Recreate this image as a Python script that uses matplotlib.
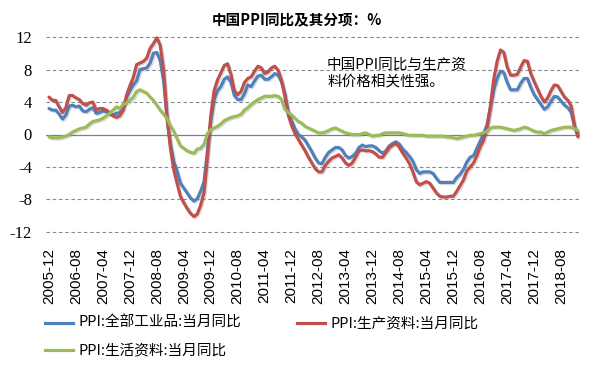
import matplotlib
matplotlib.use('Agg')
import matplotlib.pyplot as plt
from matplotlib.lines import Line2D
import matplotlib.patheffects as pe
import pandas as pd

# ---------------- data ----------------
months = list(pd.period_range('2005-12', '2019-01', freq='M').strftime('%Y-%m'))

tick_labels = ['2005-12', '2006-08', '2007-04', '2007-12', '2008-08', '2009-04',
               '2009-12', '2010-08', '2011-04', '2011-12', '2012-08', '2013-04',
               '2013-12', '2014-08', '2015-04', '2015-12', '2016-08', '2017-04',
               '2017-12', '2018-08']

y_ticks = [-12, -8, -4, 0, 4, 8, 12]

# PPI: all industrial products, yoy (%)
ppi_all = [
    3.2,
    3.0, 3.0, 2.5, 1.9, 2.4, 3.5, 3.6, 3.4, 3.5, 2.9, 2.8, 3.1,
    3.3, 2.6, 2.7, 2.9, 2.8, 2.5, 2.4, 2.6, 2.7, 3.2, 4.6, 5.4,
    6.1, 6.6, 8.0, 8.1, 8.2, 8.8, 10.0, 10.1, 9.1, 6.6, 2.0, -1.1,
    -3.3, -4.5, -6.0, -6.6, -7.2, -7.8, -8.2, -7.9, -7.0, -5.8, -2.1, 1.7,
    4.3, 5.4, 5.9, 6.8, 7.1, 6.4, 4.8, 4.3, 4.3, 5.0, 6.1, 5.9,
    6.6, 7.2, 7.3, 6.8, 6.8, 7.1, 7.5, 7.3, 6.5, 5.0, 2.7, 1.7,
    0.7, 0.0, -0.3, -0.7, -1.4, -2.1, -2.9, -3.5, -3.6, -2.8, -2.2, -1.9,
    -1.6, -1.6, -1.9, -2.6, -2.9, -2.7, -2.3, -1.6, -1.3, -1.5, -1.4, -1.4,
    -1.6, -2.0, -2.3, -2.0, -1.4, -1.1, -0.9, -1.2, -1.8, -2.2, -2.7, -3.3,
    -4.3, -4.8, -4.6, -4.6, -4.6, -4.8, -5.4, -5.9, -5.9, -5.9, -5.9, -5.9,
    -5.3, -4.9, -4.3, -3.4, -2.8, -2.6, -1.7, -0.8, 0.1, 1.2, 3.3, 5.5,
    6.9, 7.8, 7.6, 6.4, 5.5, 5.5, 5.5, 6.3, 6.9, 6.9, 5.8, 4.9,
    4.3, 3.7, 3.1, 3.4, 4.1, 4.7, 4.6, 4.1, 3.6, 3.3, 2.7, 0.9,
    0.1,
]

# PPI: producer goods, yoy (%)
ppi_producer = [
    4.6,
    4.2, 4.2, 3.4, 2.7, 3.3, 4.8, 4.8, 4.5, 4.3, 3.8, 3.6, 3.9,
    4.0, 3.0, 3.2, 3.2, 3.0, 2.7, 2.3, 2.1, 2.3, 3.0, 4.8, 6.0,
    7.0, 8.6, 8.8, 9.0, 9.4, 10.6, 11.2, 11.9, 11.0, 8.0, 2.3, -1.6,
    -4.3, -6.0, -7.6, -8.4, -9.1, -9.7, -10.1, -9.8, -8.7, -7.2, -2.8, 2.3,
    5.4, 6.7, 7.6, 8.5, 8.7, 7.4, 5.4, 4.9, 5.3, 6.4, 6.9, 7.1,
    7.8, 8.4, 8.2, 7.5, 7.7, 8.2, 8.4, 7.9, 6.7, 4.7, 2.4, 1.1,
    0.1, -0.6, -1.3, -2.0, -2.8, -3.5, -4.2, -4.6, -4.6, -3.8, -3.3, -2.9,
    -2.7, -2.5, -2.9, -3.5, -3.8, -3.5, -2.8, -2.0, -1.9, -2.0, -2.0, -2.1,
    -2.4, -2.8, -2.8, -2.2, -1.6, -1.3, -1.1, -1.6, -2.3, -2.9, -3.6, -4.6,
    -5.8, -6.2, -6.0, -5.8, -6.0, -6.6, -7.2, -7.6, -7.7, -7.7, -7.6, -7.6,
    -7.0, -6.3, -5.6, -4.5, -4.0, -3.5, -2.6, -1.5, -0.7, 0.8, 3.5, 6.8,
    9.0, 10.4, 10.1, 8.3, 7.3, 7.3, 7.4, 8.3, 9.1, 9.0, 7.5, 6.5,
    5.6, 4.7, 4.0, 4.5, 5.4, 6.1, 6.0, 5.3, 4.6, 4.2, 3.5, 1.0,
    -0.3,
]

# PPI: consumer goods, yoy (%)
ppi_consumer = [
    -0.3,
    -0.4, -0.4, -0.4, -0.3, -0.2, 0.0, 0.3, 0.5, 0.7, 0.8, 0.9, 1.3,
    1.6, 1.7, 1.8, 2.0, 2.3, 2.6, 3.0, 3.4, 3.2, 3.7, 3.9, 4.2,
    4.6, 5.3, 5.5, 5.3, 5.1, 4.6, 4.2, 3.6, 3.0, 2.5, 2.0, 1.1,
    0.4, -0.5, -1.4, -1.7, -2.0, -2.2, -2.3, -1.8, -1.7, -1.2, 0.1, 0.6,
    0.8, 1.0, 1.3, 1.7, 1.9, 2.1, 2.2, 2.3, 2.5, 3.0, 3.3, 3.7,
    4.0, 4.3, 4.5, 4.7, 4.7, 4.7, 4.8, 4.7, 4.3, 3.1, 2.7, 2.4,
    2.0, 1.6, 1.4, 1.0, 0.8, 0.6, 0.4, 0.2, 0.2, 0.3, 0.5, 0.7,
    0.8, 0.6, 0.4, 0.2, 0.1, 0.0, 0.0, 0.0, 0.1, 0.2, 0.0, -0.2,
    -0.1, -0.1, 0.1, 0.2, 0.2, 0.2, 0.2, 0.2, 0.1, 0.0, -0.1, -0.1,
    -0.1, -0.1, -0.1, -0.2, -0.2, -0.2, -0.2, -0.2, -0.2, -0.3, -0.3, -0.4,
    -0.5, -0.4, -0.3, -0.2, -0.1, -0.1, 0.0, 0.1, 0.2, 0.4, 0.8, 0.9,
    0.9, 0.9, 0.8, 0.7, 0.6, 0.5, 0.6, 0.7, 0.9, 0.8, 0.6, 0.4,
    0.3, 0.3, 0.1, 0.3, 0.5, 0.6, 0.7, 0.8, 0.9, 0.9, 0.9, 0.7,
    0.5,
]

series_names = ['PPI:全部工业品:当月同比', 'PPI:生产资料:当月同比', 'PPI:生活资料:当月同比']
series_values = [ppi_all, ppi_producer, ppi_consumer]
series_colors = ['#4F81BD', '#C0504D', '#9BBB59']

title_text = '中国PPI同比及其分项：%'
note_text = '中国PPI同比与生产资\n料价格相关性强。'

# ---------------- drawing ----------------
CJK = ['Noto Sans CJK SC', 'DejaVu Sans']
W, H = 594, 369
fig = plt.figure(figsize=(W / 100, H / 100), dpi=100)
fig.patch.set_facecolor('white')

ax = fig.add_axes([46 / W, 1 - 233.2 / H, 534 / W, 197.4 / H])
x = list(range(len(months)))

shadow = [pe.SimpleLineShadow(offset=(0.9, -0.9), alpha=0.22, shadow_color='#606060'),
          pe.Normal()]
for vals, col, name in zip(series_values, series_colors, series_names):
    ax.plot(x, vals, color=col, lw=2.3, label=name, solid_joinstyle='round',
            solid_capstyle='round', path_effects=shadow, zorder=3)

ax.set_xlim(-0.9, len(months) - 1 + 0.6)
ax.set_ylim(-12.15, 12.15)

ax.set_yticks(y_ticks)
ax.set_yticklabels([str(v) for v in y_ticks], fontfamily='Liberation Serif', fontsize=12)
for yv in y_ticks:
    if yv == 0:
        ax.axhline(yv, color='#7f7f7f', lw=0.9, zorder=2)
    else:
        ax.axhline(yv, color='#8a8a8a', lw=0.8, ls=(0, (3.2, 2.4)), zorder=1)

ax.set_xticks([months.index(t) for t in tick_labels])
ax.set_xticklabels(tick_labels, rotation=90, fontfamily='Liberation Sans', fontsize=11)
ax.tick_params(axis='both', length=0, colors='black')
ax.tick_params(axis='x', pad=11)
ax.tick_params(axis='y', pad=10)
for s in ax.spines.values():
    s.set_visible(False)

# title
fig.text(0.5, 1 - 19 / H, title_text, ha='center', va='center', fontsize=10.5,
         fontweight='bold', family=CJK)

# annotation
fig.text(327 / W, 1 - 73 / H, note_text, ha='left', va='center',
         fontsize=10.5, family=CJK, linespacing=1.35)

# legend (manual layout)
legend_pos = [(45, 323), (297, 323), (45, 350)]
for (lx, ly), col, name in zip(legend_pos, series_colors, series_names):
    fig.add_artist(Line2D([lx / W, (lx + 28) / W], [1 - ly / H, 1 - ly / H],
                          color=col, lw=2.3, transform=fig.transFigure))
    fig.text((lx + 33) / W, 1 - ly / H, name, ha='left', va='center',
             fontsize=10.5, family=CJK)

fig.savefig('out.png', dpi=100, facecolor='white')
